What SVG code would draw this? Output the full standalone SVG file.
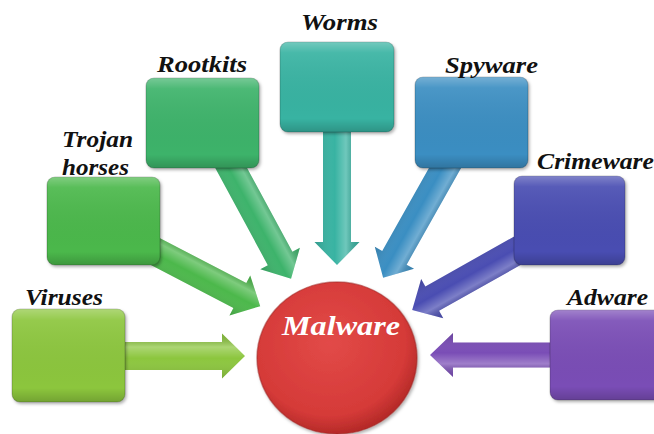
<svg xmlns="http://www.w3.org/2000/svg" width="654" height="434" viewBox="0 0 654 434">
<style>
.lbl{font-family:"Liberation Serif","DejaVu Serif",serif;font-weight:bold;font-style:italic;font-size:23px;fill:#111}
.box{stroke:#000;stroke-opacity:0.18;stroke-width:1.2}
.shade{fill:url(#gloss)}
.ashade{fill:url(#agloss)}
</style>
<defs>
<linearGradient id="gloss" x1="0" y1="0" x2="0" y2="1">
<stop offset="0" stop-color="#fff" stop-opacity="0.3"/>
<stop offset="0.12" stop-color="#fff" stop-opacity="0.08"/>
<stop offset="0.85" stop-color="#000" stop-opacity="0"/>
<stop offset="1" stop-color="#000" stop-opacity="0.18"/>
</linearGradient>
<linearGradient id="agloss" x1="0" y1="0" x2="0" y2="1">
<stop offset="0" stop-color="#000" stop-opacity="0.1"/>
<stop offset="0.3" stop-color="#fff" stop-opacity="0.28"/>
<stop offset="0.55" stop-color="#fff" stop-opacity="0"/>
<stop offset="1" stop-color="#000" stop-opacity="0.15"/>
</linearGradient>
<radialGradient id="red" cx="0.45" cy="0.4" r="0.6">
<stop offset="0" stop-color="#e24a48"/>
<stop offset="0.8" stop-color="#d53a38"/>
<stop offset="1" stop-color="#b52a28"/>
</radialGradient>
<filter id="sh" x="-10%" y="-10%" width="130%" height="130%">
<feDropShadow dx="1.5" dy="2" stdDeviation="1.5" flood-color="#000" flood-opacity="0.3"/>
</filter>
</defs>
<rect width="654" height="434" fill="#fff"/>

<g id="connectors">
<g transform="translate(110,356)"><path fill="#8cc63e" d="M0,-14 H112 V-22.5 L135,0 L112,22.5 V14 H0Z"/><path class="ashade" d="M0,-14 H112 V-22.5 L135,0 L112,22.5 V14 H0Z"/></g>
<g transform="translate(133.4,240.1) rotate(27.5)"><path fill="#4cb84b" d="M0,-14 H120 V-22.5 L143,0 L120,22.5 V14 H0Z"/><path class="ashade" d="M0,-14 H120 V-22.5 L143,0 L120,22.5 V14 H0Z"/></g>
<g transform="translate(221.6,150.3) rotate(61.6)"><path fill="#3db36b" d="M0,-14 H123 V-22.5 L146,0 L123,22.5 V14 H0Z"/><path class="ashade" d="M0,-14 H123 V-22.5 L146,0 L123,22.5 V14 H0Z"/></g>
<g transform="translate(337,120) rotate(90)"><path fill="#38b3a2" d="M0,-14 H122 V-22.5 L145,0 L122,22.5 V14 H0Z"/><path class="ashade" d="M0,-14 H122 V-22.5 L145,0 L122,22.5 V14 H0Z"/></g>
<g transform="translate(454.8,150.6) rotate(119.4)"><path fill="#3a8ec2" d="M0,-14 H123 V-22.5 L146,0 L123,22.5 V14 H0Z"/><path class="ashade" d="M0,-14 H123 V-22.5 L146,0 L123,22.5 V14 H0Z"/></g>
<g transform="translate(532.4,242.2) rotate(150.6)"><path fill="#4a4db2" d="M0,-14 H115 V-22.5 L138,0 L115,22.5 V14 H0Z"/><path class="ashade" d="M0,-14 H115 V-22.5 L138,0 L115,22.5 V14 H0Z"/></g>
<g transform="translate(565,355) rotate(180)"><path fill="#7a4db6" d="M0,-12.5 H112 V-22 L135,0 L112,22 V12.5 H0Z"/><path class="ashade" d="M0,-12.5 H112 V-22 L135,0 L112,22 V12.5 H0Z"/></g>
</g>

<g id="viruses">
<rect class="box" x="12" y="309" width="113" height="93" rx="8" fill="#8cc63e" filter="url(#sh)"/>
<rect class="shade" x="12" y="309" width="113" height="93" rx="8"/>
<text class="lbl" x="25" y="305" textLength="78" lengthAdjust="spacingAndGlyphs">Viruses</text>
</g>
<g id="trojan">
<rect class="box" x="47" y="177" width="113" height="88" rx="8" fill="#4cb84b" filter="url(#sh)"/>
<rect class="shade" x="47" y="177" width="113" height="88" rx="8"/>
<text class="lbl" x="62" y="147" textLength="71" lengthAdjust="spacingAndGlyphs">Trojan</text>
<text class="lbl" x="62" y="175" textLength="67" lengthAdjust="spacingAndGlyphs">horses</text>
</g>
<g id="rootkits">
<rect class="box" x="146" y="78" width="113" height="90" rx="8" fill="#3db36b" filter="url(#sh)"/>
<rect class="shade" x="146" y="78" width="113" height="90" rx="8"/>
<text class="lbl" x="157" y="72" textLength="90" lengthAdjust="spacingAndGlyphs">Rootkits</text>
</g>
<g id="worms">
<rect class="box" x="280" y="42" width="114" height="90" rx="8" fill="#38b3a2" filter="url(#sh)"/>
<rect class="shade" x="280" y="42" width="114" height="90" rx="8"/>
<text class="lbl" x="301" y="30" textLength="77" lengthAdjust="spacingAndGlyphs">Worms</text>
</g>
<g id="spyware">
<rect class="box" x="415" y="77" width="113" height="91" rx="8" fill="#3a8ec2" filter="url(#sh)"/>
<rect class="shade" x="415" y="77" width="113" height="91" rx="8"/>
<text class="lbl" x="445" y="73" textLength="93" lengthAdjust="spacingAndGlyphs">Spyware</text>
</g>
<g id="crimeware">
<rect class="box" x="514" y="176" width="111" height="89" rx="8" fill="#4a4db2" filter="url(#sh)"/>
<rect class="shade" x="514" y="176" width="111" height="89" rx="8"/>
<text class="lbl" x="537" y="169" textLength="117" lengthAdjust="spacingAndGlyphs">Crimeware</text>
</g>
<g id="adware">
<rect class="box" x="550" y="310" width="112" height="90" rx="8" fill="#7a4db6" filter="url(#sh)"/>
<rect class="shade" x="550" y="310" width="112" height="90" rx="8"/>
<text class="lbl" x="567" y="305" textLength="81" lengthAdjust="spacingAndGlyphs">Adware</text>
</g>
<g id="malware">
<ellipse cx="337" cy="358" rx="80" ry="76" fill="url(#red)" stroke="#9e2422" stroke-opacity="0.5" stroke-width="1.5" filter="url(#sh)"/>
<text x="282" y="335" textLength="118" lengthAdjust="spacingAndGlyphs" style="font-family:'Liberation Serif','DejaVu Serif',serif;font-weight:bold;font-style:italic;font-size:27px;fill:#fff">Malware</text>
</g>
</svg>
